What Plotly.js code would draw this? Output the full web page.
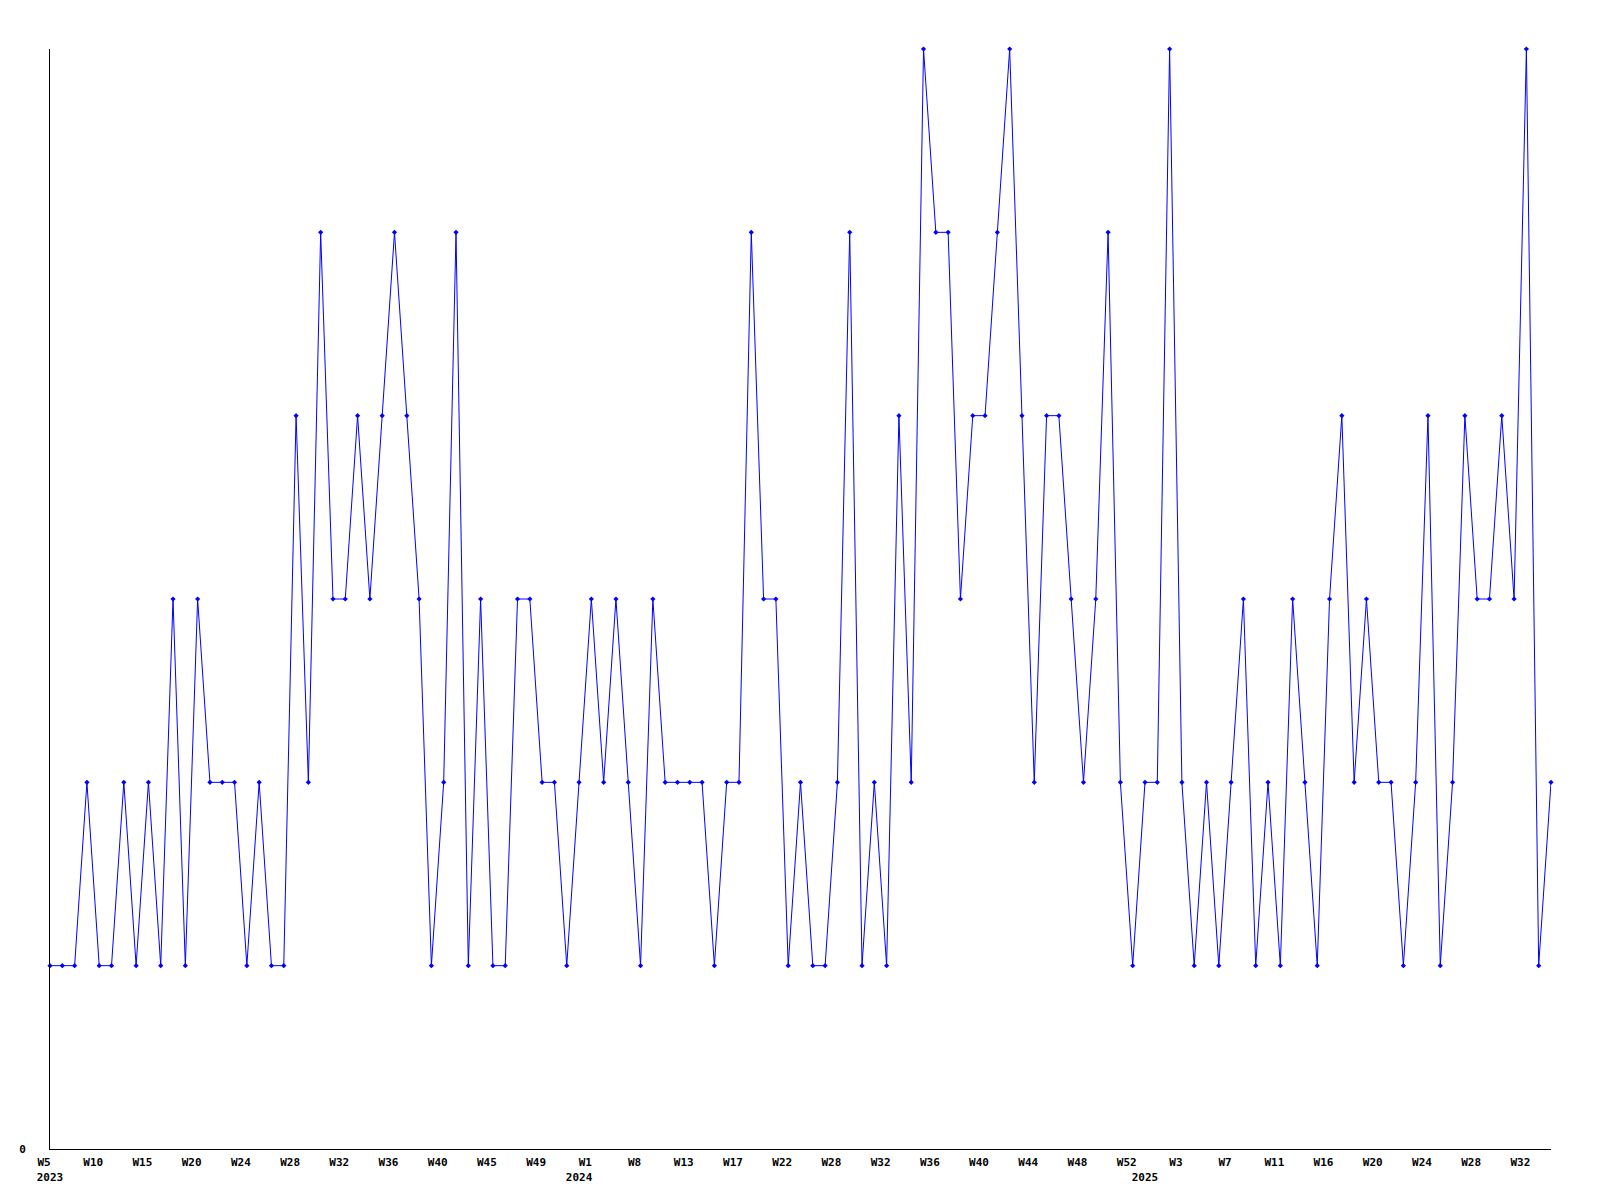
<!DOCTYPE html>
<html>
<head>
<meta charset="utf-8">
<script src="https://cdn.plot.ly/plotly-3.0.1.min.js"></script>
<style>html,body{margin:0;padding:0;background:#fff;}#chart{width:1600px;height:1200px;}</style>
</head>
<body>
<div id="chart"></div>
<script>
// Weekly values, one per point (2023 W5 .. 2025 ~W34)
const values = [
  1,1,1,2,1,1,2,1,2,1,
  3,1,3,2,2,2,1,2,1,1,
  4,2,5,3,3,4,3,4,5,4,
  3,1,2,5,1,3,1,1,3,3,
  2,2,1,2,3,2,3,2,1,3,
  2,2,2,2,1,2,2,5,3,3,
  1,2,1,1,2,5,1,2,1,4,
  2,6,5,5,3,4,4,5,6,4,
  2,4,4,3,2,3,5,2,1,2,
  2,6,2,1,2,1,2,3,1,2,
  1,3,2,1,3,4,2,3,2,2,
  1,2,4,1,2,4,3,3,4,3,
  6,1,2
];
// Week tick labels, one every 4th point
const tickStep = 4;
const weekTicks = ['W5','W10','W15','W20','W24','W28','W32','W36','W40','W45','W49',
                   'W1','W8','W13','W17','W22','W28','W32','W36','W40','W44','W48','W52',
                   'W3','W7','W11','W16','W20','W24','W28','W32'];
// Year labels and the point index where each year starts
const years = ['2023','2024','2025'];
const yearStart = [0, 43, 89];

const xIdx = values.map((_, i) => i);
const tickVals = weekTicks.map((_, i) => i * tickStep);

const FONT = {family: '"DejaVu Sans Mono", "Liberation Mono", monospace', size: 11, color: '#000', weight: 'bold'};

const traces = [
  {
    x: xIdx, y: values, type: 'scatter', mode: 'lines+markers',
    line: {color: '#0000ff', width: 1},
    marker: {color: '#0000ff', symbol: 'diamond', size: 4},
    cliponaxis: false,
    showlegend: false, hoverinfo: 'x+y'
  },
  {
    x: yearStart, y: yearStart.map(() => null), xaxis: 'x2', yaxis: 'y',
    type: 'scatter', mode: 'markers', showlegend: false, hoverinfo: 'skip'
  }
];

const layout = {
  width: 1600, height: 1200,
  paper_bgcolor: '#ffffff', plot_bgcolor: '#ffffff',
  margin: {l: 50, r: 49, t: 49, b: 51},
  showlegend: false,
  font: FONT,
  xaxis: {
    range: [0, values.length - 1],
    showgrid: false, zeroline: false,
    showline: true, linecolor: '#000', linewidth: 1,
    tickmode: 'array', tickvals: tickVals, ticktext: weekTicks,
    ticks: 'outside', ticklen: 3, tickcolor: 'rgba(0,0,0,0)',
    ticklabelshift: -6,
    tickfont: FONT, tickangle: 0
  },
  xaxis2: {
    overlaying: 'x', anchor: 'y', side: 'bottom', matches: 'x',
    range: [0, values.length - 1],
    showgrid: false, zeroline: false, showline: false,
    tickmode: 'array', tickvals: yearStart, ticktext: years,
    ticks: 'outside', ticklen: 18, tickcolor: 'rgba(0,0,0,0)',
    tickfont: FONT, tickangle: 0
  },
  yaxis: {
    range: [0, 6],
    showgrid: false, zeroline: false,
    showline: true, linecolor: '#000', linewidth: 1,
    tickmode: 'array', tickvals: [0], ticktext: ['0'],
    ticks: 'outside', ticklen: 21, tickcolor: 'rgba(0,0,0,0)',
    tickfont: FONT
  }
};

Plotly.newPlot('chart', traces, layout, {displayModeBar: false, staticPlot: true});
</script>
</body>
</html>
